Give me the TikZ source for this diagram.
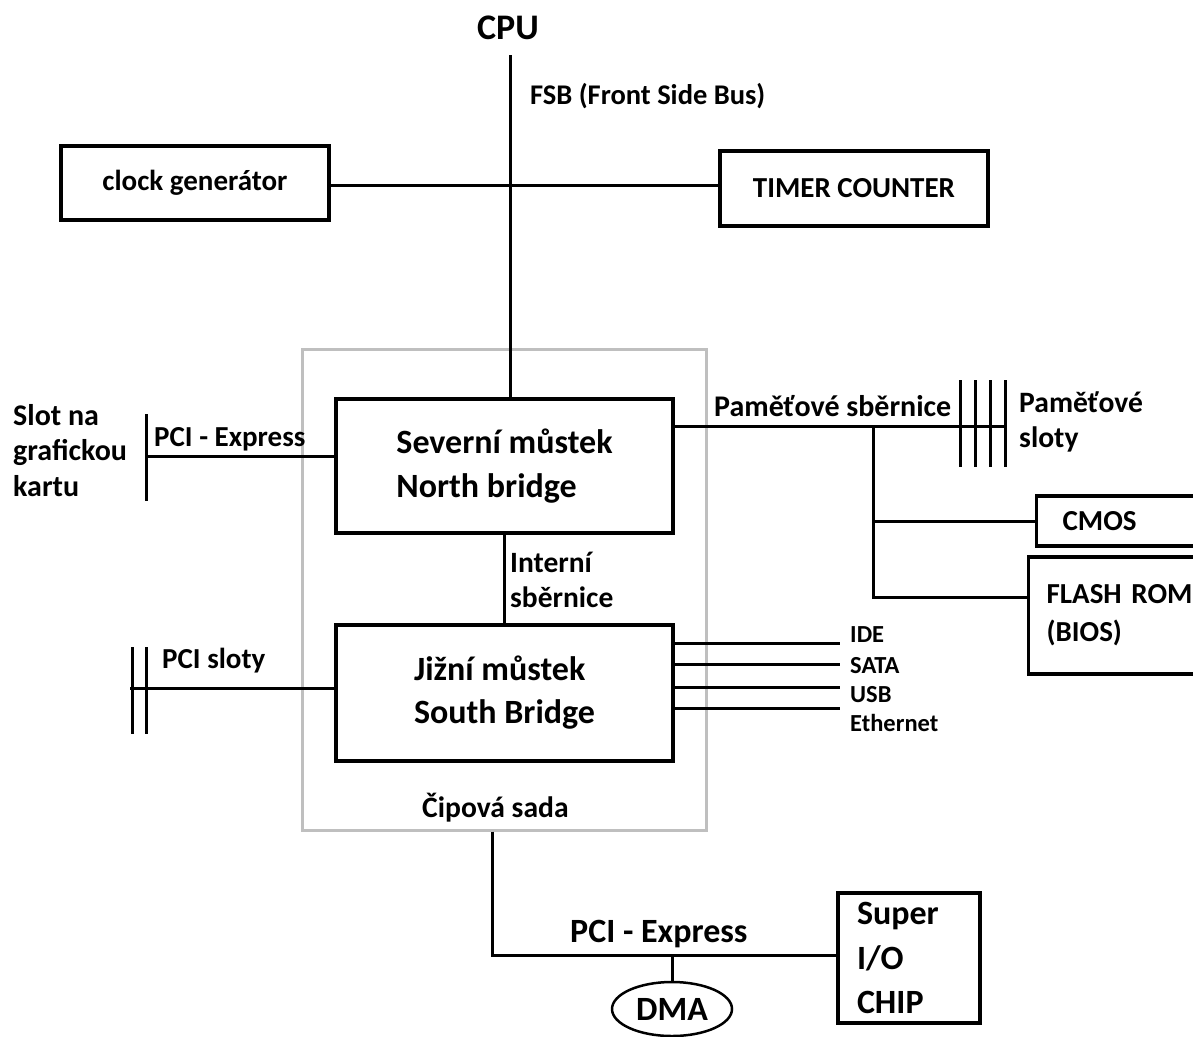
\documentclass[tikz,border=0pt]{standalone}
\usepackage{fontspec}
\setmainfont{Carlito}
\usetikzlibrary{shapes.geometric}
\tikzset{
  ln/.style={line width=3pt},
  box/.style={draw, line width=3.2pt, inner sep=0pt},
  frame/.style={draw=black!25, line width=3pt, inner sep=0pt},
  lbl/.style={inner sep=0pt, anchor=base west},
  fnt/.style 2 args={font=\bfseries\fontsize{#1pt}{#2pt}\selectfont},
}
\begin{document}
\begin{tikzpicture}[x=1pt,y=-1pt]
\clip (0,0) rectangle (1193,1036);
\fill[white] (0,0) rectangle (1193,1036);

% chipset frame
\node[frame, minimum width=404pt, minimum height=481pt] (chipset) at (504,589.5) {};

% top
\node[lbl, anchor=base, fnt={36}{40}] (cpu) at (508,39) {CPU};
\node[box, minimum width=337pt, minimum height=134pt, align=left, fnt={34}{44}] (nb) at (504.5,466) {Severní můstek\\North bridge};
\node[box, minimum width=268pt, minimum height=74pt, fnt={29}{32}] (clk) at (195,183) {clock generátor};
\node[box, minimum width=268pt, minimum height=75pt, fnt={29}{32}] (timer) at (854,188.5) {TIMER COUNTER};
\coordinate (fsbtop) at (510,55);
\coordinate (bus) at (510,185);
\draw[ln] (fsbtop) -- (fsbtop |- nb.north);
\draw[ln] (clk.east |- bus) -- (timer.west |- bus);
\node[lbl, fnt={28.5}{32}] (fsb) at (530,104) {FSB (Front Side Bus)};

% south bridge
\node[box, minimum width=337pt, minimum height=136pt, align=left, fnt={34}{43}] (sb) at (504.5,693) {Jižní můstek\\South Bridge};
\draw[ln] (nb.south) -- (sb.north);
\node[lbl, fnt={29.5}{35}, align=left] (intl) at (510,607) {Interní\\sběrnice};

% left side
\coordinate (gpubar) at (146,456);
\draw[ln] (146,414) -- (146,501);
\draw[ln] (gpubar) -- (gpubar -| nb.west);
\node[lbl, fnt={30}{35.5}, align=left] (slotgpu) at (13,496) {Slot na\\grafickou\\kartu};
\node[lbl, fnt={29}{32}] (pcie1) at (154,446) {PCI - Express};

\coordinate (pcibar) at (130,688);
\draw[ln] (132,647) -- (132,734);
\draw[ln] (146,647) -- (146,734);
\draw[ln] (pcibar) -- (pcibar -| sb.west);
\node[lbl, fnt={29}{32}] (pcisl) at (162,668) {PCI sloty};

% memory bus
\coordinate (memend) at (1005,426);
\draw[ln] (memend -| nb.east) -- (memend);
\foreach \x in {960,975,990,1005} \draw[ln] (\x,380) -- (\x,467);
\node[lbl, fnt={30}{35}] (memlbl) at (714,416) {Paměťové sběrnice};
\node[lbl, fnt={29.6}{35}, align=left] (memslot) at (1019,447) {Paměťové\\sloty};
\coordinate (br) at (873,426);
\coordinate (brf) at (873,597);
\node[box, anchor=west, text width=120pt, inner xsep=26pt, minimum height=50pt, align=left, fnt={29}{32}] (cmos) at (1035,521) {CMOS};
\node[box, anchor=west, text width=170pt, inner xsep=18pt, minimum height=117pt, align=left, fnt={29}{38}] (flash) at (1027,615.5) {FLASH ROM\\(BIOS)};
\draw[ln] (br) |- (cmos.west);
\draw[ln] (br) -- (brf) -- (brf -| flash.west);

% south bridge ports
\foreach \y/\t/\b/\n in {643/IDE/642/ide, 664/SATA/673/sata, 687/USB/702/usb, 708/Ethernet/731/eth} {
  \coordinate (\n-end) at (840,\y);
  \draw[ln] (\n-end -| sb.east) -- (\n-end);
  \node[lbl, fnt={24.5}{28}] (\n) at (850,\b) {\t};
}

% bottom
\node[lbl, fnt={29.6}{32}] (cip) at (422,817) {Čipová sada};
\coordinate (down) at (492,955);
\node[box, minimum width=142pt, minimum height=130pt, text width=104pt, inner xsep=19pt, align=left, fnt={34}{44.5}] (super) at (909,958) {Super\\I/O\\CHIP};
\draw[ln] (chipset.south -| down) -- (down) -- (down -| super.west);
\node[lbl, fnt={34}{36}] (pcie2) at (570,942) {PCI - Express};
\node[draw, ellipse, line width=2.5pt, minimum width=120pt, minimum height=54pt, inner sep=0pt, fnt={34}{36}] (dma) at (672,1009) {DMA};
\draw[ln] (dma.north |- down) -- (dma.north);
\end{tikzpicture}
\end{document}
